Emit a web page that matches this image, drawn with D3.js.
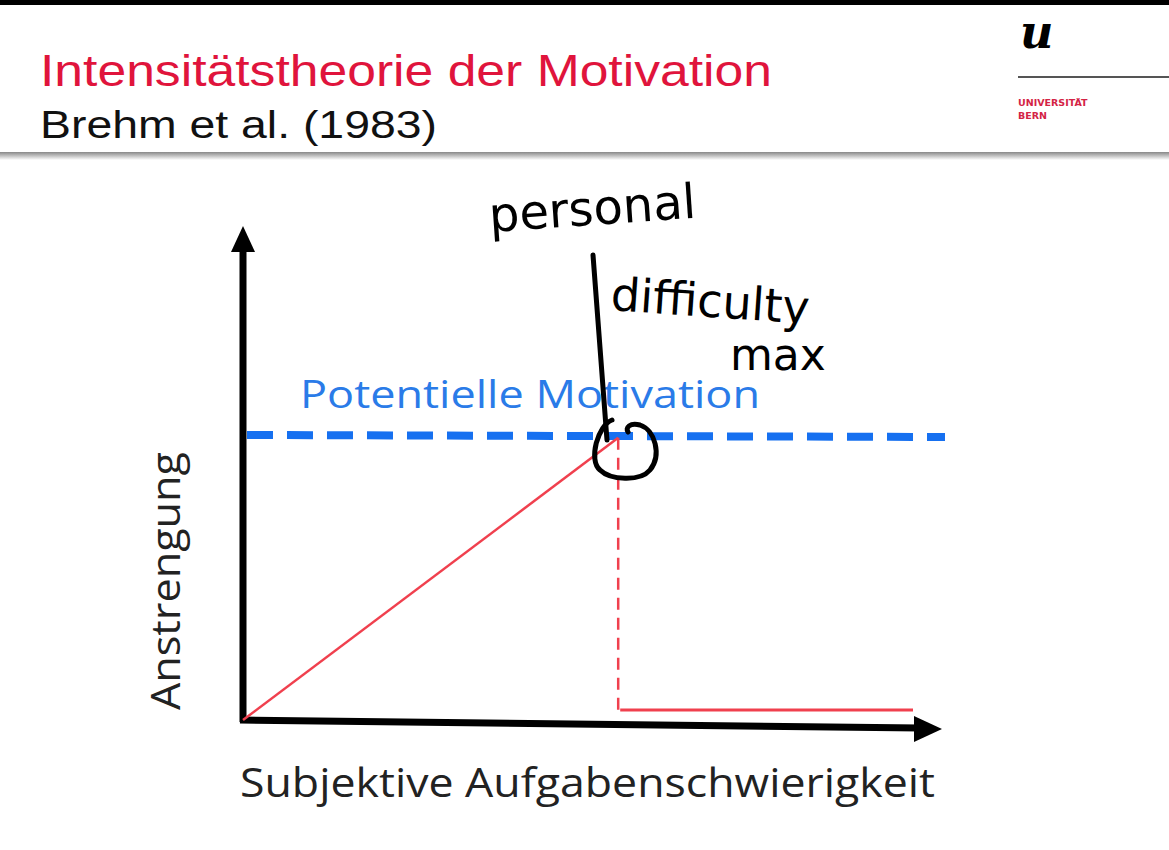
<!DOCTYPE html>
<html><head><meta charset="utf-8">
<script src="https://cdn.jsdelivr.net/npm/d3@7/dist/d3.min.js"></script>
<style>body{margin:0;background:#fff}svg{display:block}</style>
</head><body>
<svg id="c" width="1169" height="850"></svg>
<script>
// Data (arbitrary units)
const potentialMotivation = 10;
const effortRise = [[0,0],[5.6,9.9]];
const effortDrop = [[5.6,9.9],[5.6,0.35]];
const effortFail = [[5.63,0.35],[10,0.35]];
const title = "Intensitätstheorie der Motivation";
const subtitle = "Brehm et al. (1983)";
const xLabel = "Subjektive Aufgabenschwierigkeit";
const yLabel = "Anstrengung";
const lineLabel = "Potentielle Motivation";

const svg = d3.select("#c");
const x = d3.scaleLinear().domain([0,10]).range([243,913]);
const y = d3.scaleLinear().domain([0,10]).range([720,435]);
const line = d3.line().x(d=>x(d[0])).y(d=>y(d[1]));

// header
svg.append("rect").attr("x",0).attr("y",0).attr("width",1169).attr("height",5).attr("fill","#000");
const g = svg.append("defs").append("linearGradient").attr("id","hg").attr("x1",0).attr("x2",0).attr("y1",0).attr("y2",1);
g.append("stop").attr("offset","0").attr("stop-color","#888");
g.append("stop").attr("offset","1").attr("stop-color","#fff");
svg.append("rect").attr("x",0).attr("y",152).attr("width",1169).attr("height",8).attr("fill","url(#hg)");
svg.append("text").attr("x",40).attr("y",86).attr("font-family","Liberation Sans, Arial").attr("font-size",44).attr("textLength",732).attr("lengthAdjust","spacingAndGlyphs").attr("fill","#e0143c").text(title);
svg.append("text").attr("x",40).attr("y",138).attr("font-family","Liberation Sans, Arial").attr("font-size",38).attr("textLength",397).attr("lengthAdjust","spacingAndGlyphs").attr("fill","#111").text(subtitle);
// logo
svg.append("text").attr("x",1020).attr("y",48).attr("font-family","DejaVu Serif").attr("font-style","italic").attr("font-weight","bold").attr("font-size",46).attr("fill","#000").text("u");
svg.append("line").attr("x1",1018).attr("x2",1169).attr("y1",77).attr("y2",77).attr("stroke","#555").attr("stroke-width",2);
svg.append("text").attr("x",1018).attr("y",106).attr("font-family","DejaVu Sans").attr("font-weight","bold").attr("font-size",9.5).attr("fill","#d42345").text("UNIVERSITÄT");
svg.append("text").attr("x",1018).attr("y",119).attr("font-family","DejaVu Sans").attr("font-weight","bold").attr("font-size",9.5).attr("fill","#d42345").text("BERN");

// axes
const ax = svg.append("g");
ax.append("line").attr("x1",243).attr("x2",243).attr("y1",722).attr("y2",245).attr("stroke","#000").attr("stroke-width",7);
ax.append("path").attr("d","M243,226 L231,252 L255,252 Z").attr("fill","#000");
ax.append("line").attr("x1",240).attr("x2",920).attr("y1",720).attr("y2",728).attr("stroke","#000").attr("stroke-width",7);
ax.append("path").attr("d","M942,729 L914,716 L914,742 Z").attr("fill","#000");

// potential motivation
svg.append("line").attr("x1",x(0)+4).attr("x2",945).attr("y1",y(potentialMotivation)).attr("y2",y(potentialMotivation)+2)
 .attr("stroke","#1670f0").attr("stroke-width",8).attr("stroke-dasharray","26,14");
svg.append("text").attr("x",300).attr("y",408).attr("font-family","Open Sans").attr("font-weight",500).attr("font-size",38).attr("textLength",460).attr("lengthAdjust","spacingAndGlyphs").attr("fill","#2a7be8").text(lineLabel);

// effort
svg.append("path").attr("d",line(effortRise)).attr("stroke","#f0404e").attr("stroke-width",2.5).attr("fill","none");
svg.append("path").attr("d",line(effortDrop)).attr("stroke","#f0404e").attr("stroke-width",2.5).attr("stroke-dasharray","12,8").attr("fill","none");
svg.append("path").attr("d",line(effortFail)).attr("stroke","#f0404e").attr("stroke-width",3).attr("fill","none");

// labels
svg.append("text").attr("x",240).attr("y",797).attr("font-family","Open Sans").attr("font-weight",500).attr("font-size",40).attr("textLength",695).attr("lengthAdjust","spacingAndGlyphs").attr("fill","#222").text(xLabel);
svg.append("text").attr("transform","translate(180,710) rotate(-90)").attr("font-family","Open Sans").attr("font-weight",500).attr("font-size",40).attr("textLength",258).attr("lengthAdjust","spacingAndGlyphs").attr("fill","#222").text(yLabel);

// handwritten annotation
const hw = svg.append("g").attr("fill","none").attr("stroke","#000").attr("stroke-width",5).attr("stroke-linecap","round");
hw.append("path").attr("d","M593,255 C598,320 602,380 607,440");
hw.append("path").attr("d","M612,420 C598,425 588,460 600,470 C610,480 640,482 650,470 C662,455 655,430 640,425 C630,422 625,428 628,432");
svg.append("text").attr("x",490).attr("y",232).attr("font-family","DejaVu Sans").attr("font-size",48).attr("fill","#000").attr("transform","rotate(-4,490,232)").text("personal");
svg.append("text").attr("x",610).attr("y",310).attr("font-family","DejaVu Sans").attr("font-size",46).attr("fill","#000").attr("transform","rotate(4,610,310)").text("difficulty");
svg.append("text").attr("x",730).attr("y",370).attr("font-family","DejaVu Sans").attr("font-size",44).attr("fill","#000").text("max");
</script>
</body></html>
